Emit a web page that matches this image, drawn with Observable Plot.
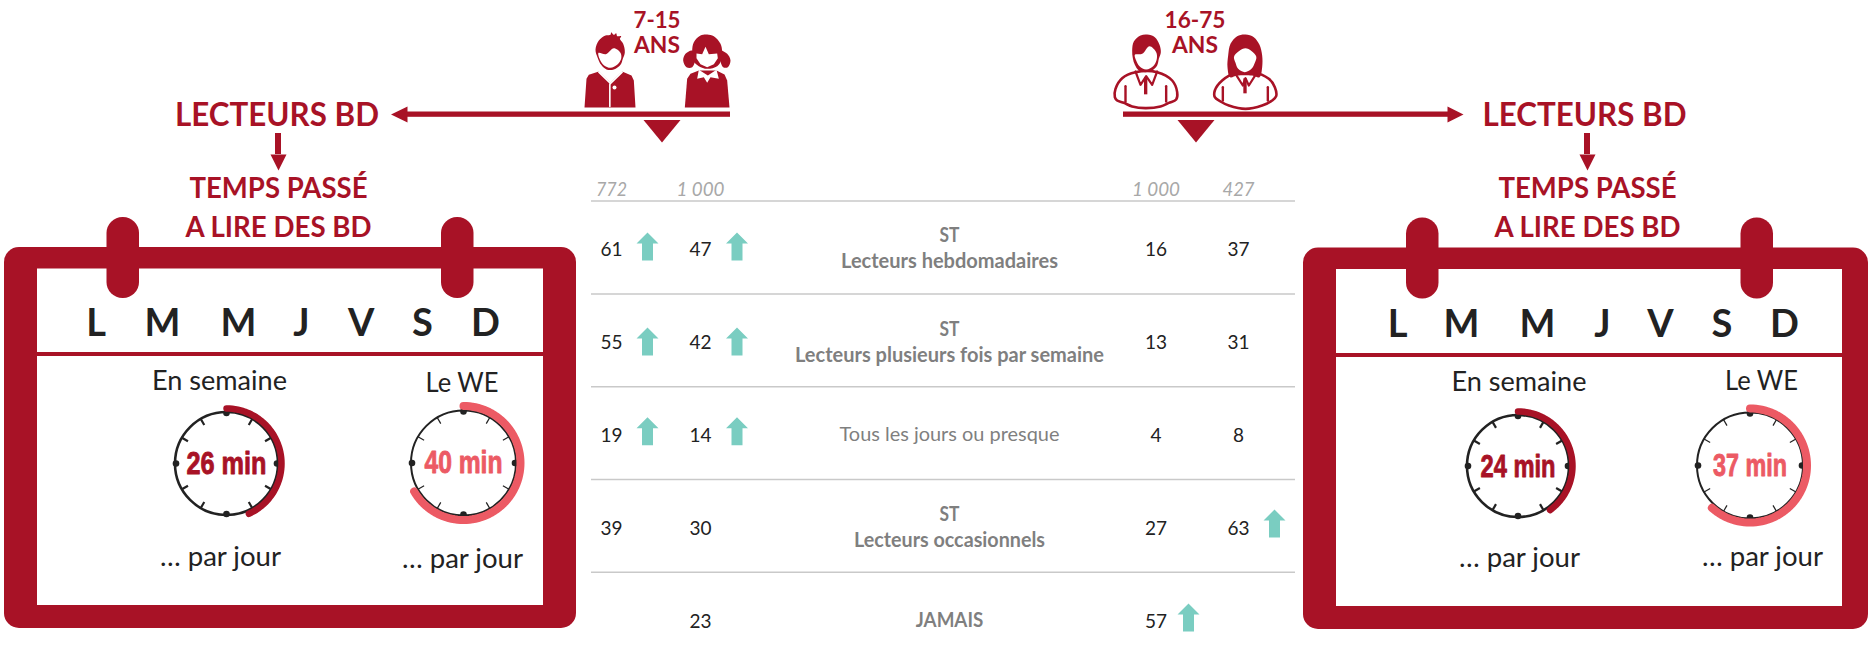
<!DOCTYPE html>
<html lang="fr">
<head>
<meta charset="utf-8">
<script src="https://cdn.jsdelivr.net/npm/d3@7"></script>
<script src="https://cdn.jsdelivr.net/npm/@observablehq/plot@0.6"></script>
<style>html,body{margin:0;padding:0;background:#fff;overflow:hidden}svg{display:block}</style>
</head>
<body>
<div id="chart"></div>
<script>
// ---------- data ----------
const rowNames = ["Lecteurs hebdomadaires", "Lecteurs plusieurs fois par semaine", "Tous les jours ou presque", "Lecteurs occasionnels", "JAMAIS"];
const rowHasST = [true, true, false, true, false];
const rowBold = [true, true, false, true, true];
const baseLabels = ["772", "1 000", "1 000", "427"];
const kids715Base772 = [61, 55, 19, 39, null];
const kids715Base1000 = [47, 42, 14, 30, 23];
const adults1675Base1000 = [16, 13, 4, 27, 57];
const adults1675Base427 = [37, 31, 8, 63, null];
const up715Base772 = [true, true, true, false, false];
const up715Base1000 = [true, true, true, false, false];
const up1675Base1000 = [false, false, false, false, true];
const up1675Base427 = [false, false, false, true, false];
const days = ["L", "M", "M", "J", "V", "S", "D"];
const minutes = {kidsWeek: 26, kidsWE: 40, adultsWeek: 24, adultsWE: 37};
const texts = {readers: "LECTEURS BD", time1: "TEMPS PASSÉ", time2: "A LIRE DES BD", week: "En semaine", we: "Le WE", perDay: "… par jour", ans: "ANS", kids: "7-15", adults: "16-75", st: "ST"};

// ---------- style & layout ----------
const RED = "#a81226", CORAL = "#ec5a64", TEAL = "#7acdc1", INK = "#222222", GREY = "#7f7f7f", RULE = "#c9c9c9", BASE = "#a8a8a8";
const SANS = "Lato, 'Open Sans', sans-serif";
const NARROW = "'Liberation Sans', sans-serif";
const columns = [611, 700, 1155.5, 1238];
const arrowDx = [36, 36.5, 32.5, 36];
const rowY = [248, 341.7, 434, 527, 620];
const arrowTop = [-16, -14.7, -17.3, -18, -17];
const ruleY = [200.5, 293.5, 386.3, 479, 571.7];
// rendered width of each label, measured on the reference (its typeface is narrower than Lato)
const fitWidth = {"LECTEURS BD": 204, "TEMPS PASSÉ": 178, "A LIRE DES BD": 186, "En semaine": 135, "Le WE": 73, "… par jour": 121,
  "26 min": 80, "40 min": 78, "24 min": 75, "37 min": 74, "Lecteurs hebdomadaires": 217, "Lecteurs plusieurs fois par semaine": 309,
  "Tous les jours ou presque": 220, "Lecteurs occasionnels": 191, "JAMAIS": 67.5, "ST": 20, "772": 31, "1 000": 48, "427": 32,
  "7-15": 47, "ANS": 46, "16-75": 61};

const marks = [];
const pt = ([x, y]) => ({x, y});
const poly = (pts, fill, curve = "linear-closed") =>
  marks.push(Plot.line(pts.map(pt), {x: "x", y: "y", fill, stroke: "none", curve}));
const outline = (pts, stroke, strokeWidth, curve = "linear", fill = "none") =>
  marks.push(Plot.line(pts.map(pt), {x: "x", y: "y", fill, stroke, strokeWidth, curve, strokeLinecap: "round", strokeLinejoin: "round"}));
const box = (x1, x2, y1, y2, fill, rx = 0) =>
  marks.push(Plot.rect([{x1, x2, y1, y2}], {x1: "x1", x2: "x2", y1: "y1", y2: "y2", fill, rx}));
const text = (items, o) =>
  marks.push(Plot.text(items, {x: "x", y: "y", text: "t", lineAnchor: "bottom", textAnchor: "middle", fontFamily: SANS, ...o}));

// ---------- calendars ----------
function calendar(c) {
  box(c.x1, c.x2, c.top, c.bottom, RED, 15);
  box(c.x1 + 33, c.x2 - c.rb, c.top + 21.5, c.bottom - 23, "#ffffff");
  box(c.x1 + 33, c.x2 - c.rb, c.div, c.div + 4, RED);
  c.rings.forEach(r => box(r, r + 32.5, c.top - 30, c.top + 51, RED, 16));
  text(days.map((t, i) => ({t, x: c.days[i], y: c.dayY})), {fontSize: 38, fontWeight: 700, fill: INK});
  text([{t: texts.time1, x: c.cx, y: 197}, {t: texts.time2, x: c.cx, y: 236.5}], {fontSize: 28, fontWeight: 700, fill: RED});
  text([{t: texts.readers, x: c.rx, y: 125.5}], {fontSize: 33, fontWeight: 700, fill: RED});
}
calendar({x1: 4, x2: 576, rb: 33, top: 247, bottom: 628, div: 352, dayY: 335.5, rings: [106.5, 441], cx: 278, rx: 276.5,
  days: [95.5, 162, 238, 301, 360.7, 422, 485]});
calendar({x1: 1303, x2: 1868, rb: 26, top: 247.5, bottom: 629, div: 353, dayY: 336, rings: [1406, 1740.5], cx: 1587, rx: 1584,
  days: [1397, 1461, 1537, 1602, 1660, 1721.5, 1784]});

// ---------- clocks ----------
function clock(c) {
  const polar = (m, r) => [c.x + r * Math.sin(m * Math.PI / 30), c.y - r * Math.cos(m * Math.PI / 30)];
  marks.push(Plot.dot([c], {x: "x", y: "y", r: c.r, stroke: INK, strokeWidth: c.ring, fill: "none"}));
  const hours = d3.range(0, 60, 5);
  const small = hours.filter(m => m % 15 !== 0);
  marks.push(Plot.link(small.map(m => { const [x1, y1] = polar(m, c.r + 0.5), [x2, y2] = polar(m, c.r - 7); return {x1, y1, x2, y2}; }),
    {x1: "x1", y1: "y1", x2: "x2", y2: "y2", stroke: INK, strokeWidth: c.tick}));
  marks.push(Plot.dot(hours.filter(m => m % 15 === 0).map(m => { const [x, y] = polar(m, c.r - 1); return {x, y}; }),
    {x: "x", y: "y", r: 3.3, fill: INK}));
  outline(d3.range(0, c.minutes + 0.25, 0.5).map(m => polar(m, c.arc)), c.color, c.arcWidth);
  text([{t: `${c.minutes} min`, x: c.x, y: c.labelY}], {fontFamily: NARROW, fontWeight: 700, fontSize: 32, fill: c.color, stroke: c.color, strokeWidth: 0.9});
  text([{t: c.head, x: c.headX, y: c.headY}, {t: texts.perDay, x: c.footX, y: c.footY}], {fontSize: 27, fill: INK});
}
clock({minutes: minutes.kidsWeek, x: 226, y: 463, r: 51.5, ring: 2.6, tick: 2.2, arc: 55, arcWidth: 6.5, color: RED, labelY: 473.5,
  head: texts.week, headX: 219, headY: 389, footX: 220, footY: 565});
clock({minutes: minutes.kidsWE, x: 463, y: 462.5, r: 52.5, ring: 2, tick: 1.2, arc: 57, arcWidth: 8, color: CORAL, labelY: 472,
  head: texts.we, headX: 461.5, headY: 391, footX: 462, footY: 567});
clock({minutes: minutes.adultsWeek, x: 1517.5, y: 465.5, r: 51, ring: 2.6, tick: 2.2, arc: 54.5, arcWidth: 6.5, color: RED, labelY: 476,
  head: texts.week, headX: 1518.5, headY: 390, footX: 1519, footY: 566});
clock({minutes: minutes.adultsWE, x: 1749.5, y: 465, r: 53, ring: 2, tick: 1.2, arc: 57, arcWidth: 8, color: CORAL, labelY: 475,
  head: texts.we, headX: 1761, headY: 389, footX: 1762, footY: 565});

// ---------- seesaw arrows ----------
box(405, 730, 111.5, 116.8, RED);
poly([[390.5, 114], [407, 106], [407, 122]], RED);
poly([[643, 119.5], [680, 119.5], [661.5, 142]], RED);
box(1123, 1448, 111.5, 116.8, RED);
poly([[1463, 114], [1447, 106], [1447, 122]], RED);
poly([[1177, 119.5], [1214, 119.5], [1195.5, 142]], RED);
[[278, 133, 154], [1587, 133, 154]].forEach(([x, y1, y2]) => {
  box(x - 3, x + 3, y1, y2, RED);
  poly([[x - 8, y2], [x + 8, y2], [x, 170]], RED);
});
text([{t: texts.kids, x: 656.5, y: 27}, {t: texts.ans, x: 656.5, y: 52}], {fontSize: 23, fontWeight: 700, fill: RED});
text([{t: texts.adults, x: 1194.5, y: 27}, {t: texts.ans, x: 1194.5, y: 52}], {fontSize: 23, fontWeight: 700, fill: RED});

// ---------- pictograms ----------
const at = (ox, oy, pts) => pts.map(([x, y]) => [ox + x / 3, oy + y / 3]);
const K = (p) => at(570, 25, p), A = (p) => at(1105, 25, p);
// boy
poly(K([[42,246],[48,160],[55,148],[85,138],[120,172],[155,138],[183,150],[190,165],[195,246]]), RED);
poly(K([[75,72],[85,45],[105,30],[120,28],[122,20],[130,28],[137,23],[140,32],[152,32],[148,40],[158,55],[163,80],[157,100],[150,118],[130,132],[108,132],[92,118],[82,98]]), RED, "catmull-rom-closed");
poly(K([[84,82],[106,86],[130,68],[150,82],[152,100],[140,118],[120,127],[100,119],[88,102]]), "#ffffff", "catmull-rom-closed");
outline(K([[85,140],[120,174],[155,140]]), "#ffffff", 1.6);
outline(K([[118,176],[118,243]]), "#ffffff", 1.6);
marks.push(Plot.dot([pt(K([[132,186]])[0])], {x: "x", y: "y", r: 2, fill: "#ffffff"}));
// girl
poly(K([[343,246],[350,160],[360,145],[385,135],[438,135],[462,147],[470,165],[477,246]]), RED);
poly(K([[385,133],[380,160],[400,155],[410,172],[420,155],[445,160],[438,133],[412,150]]), "#ffffff");
poly(K([[338,105],[345,85],[365,75],[375,95],[365,125],[348,125]]), RED, "catmull-rom-closed");
poly(K([[450,75],[470,85],[480,105],[472,125],[458,125],[448,95]]), RED, "catmull-rom-closed");
poly(K([[365,75],[370,50],[390,30],[410,27],[430,32],[450,55],[455,80],[452,105],[440,122],[410,130],[385,122],[368,105]]), RED, "catmull-rom-closed");
poly(K([[378,84],[395,86],[405,64],[415,86],[440,84],[442,98],[430,116],[410,125],[390,116],[378,98]]), "#ffffff");
// man
outline(A([[90,140],[50,158],[30,190],[28,215],[35,225],[55,232],[80,243],[120,248],[165,243],[190,232],[212,222],[215,200],[200,165],[155,140]]), RED, 2.6, "catmull-rom-closed", "#ffffff");
outline(A([[60,182],[60,228]]), RED, 2.4);
outline(A([[182,182],[182,228]]), RED, 2.4);
poly(A([[80,75],[85,48],[105,30],[125,27],[148,35],[162,58],[166,80],[160,100],[155,120],[140,135],[120,140],[100,135],[88,118],[82,98]]), RED, "catmull-rom-closed");
poly(A([[88,88],[110,85],[132,62],[152,80],[154,100],[145,120],[122,132],[102,122],[92,105]]), "#ffffff", "catmull-rom-closed");
outline(A([[90,138],[105,178],[122,152],[140,178],[155,138]]), RED, 2.2);
box(...[A([[117,0]])[0][0], A([[127,0]])[0][0], A([[0,156]])[0][1], A([[0,208]])[0][1]], RED);
// woman
outline(A([[395,140],[350,165],[328,195],[328,215],[345,228],[370,240],[420,250],[470,240],[500,225],[512,212],[508,185],[490,160],[445,140]]), RED, 2.6, "catmull-rom-closed", "#ffffff");
outline(A([[352,185],[352,225]]), RED, 2.4);
outline(A([[487,185],[487,225]]), RED, 2.4);
poly(A([[368,90],[375,55],[395,32],[420,27],[445,35],[462,58],[470,90],[470,125],[462,155],[440,150],[395,150],[374,155],[366,125]]), RED, "catmull-rom-closed");
poly(A([[386,92],[420,68],[452,92],[448,112],[438,130],[418,140],[398,130],[390,112]]), "#ffffff", "catmull-rom-closed");
outline(A([[390,145],[412,180],[420,158],[430,180],[452,145]]), RED, 2.2);
box(...[A([[415,0]])[0][0], A([[425,0]])[0][0], A([[0,160]])[0][1], A([[0,205]])[0][1]], RED);

// ---------- table ----------
ruleY.forEach(y => marks.push(Plot.ruleY([y], {y: d => d, x1: 591, x2: 1295, stroke: RULE, strokeWidth: 1.5})));
text(baseLabels.map((t, i) => ({t, x: columns[i], y: 195})), {fontSize: 19, fontStyle: "italic", fill: BASE});
const valueCols = [kids715Base772, kids715Base1000, adults1675Base1000, adults1675Base427];
const upCols = [up715Base772, up715Base1000, up1675Base1000, up1675Base427];
valueCols.forEach((values, c) => {
  text(values.map((v, r) => ({t: v, x: columns[c], y: rowY[r] + 7})).filter(d => d.t !== null), {fontSize: 19, fill: INK});
  upCols[c].forEach((up, r) => {
    if (!up) return;
    const x = columns[c] + arrowDx[c], t = rowY[r] + arrowTop[r];
    poly([[x, t], [x + 11, t + 11], [x + 5.5, t + 11], [x + 5.5, t + 28], [x - 5.5, t + 28], [x - 5.5, t + 11], [x - 11, t + 11]], TEAL);
  });
});
const tableX = 949;
const boldRows = [], plainRows = [];
rowNames.forEach((t, r) => {
  (rowBold[r] ? boldRows : plainRows).push({t, x: tableX, y: rowHasST[r] ? rowY[r] + 19.7 : rowY[r] + 6.7});
  if (rowHasST[r]) boldRows.push({t: texts.st, x: tableX, y: rowY[r] - 6.3});
});
text(boldRows, {fontSize: 20, fontWeight: 700, fill: GREY});
text(plainRows, {fontSize: 19, fill: GREY});

const chart = Plot.plot({
  width: 1868, height: 661, margin: 0,
  x: {domain: [0, 1868], range: [0, 1868], axis: null},
  y: {domain: [0, 661], range: [0, 661], axis: null},
  marks
});
chart.querySelectorAll("text").forEach(node => {
  const w = fitWidth[node.textContent];
  if (w) { node.setAttribute("textLength", w); node.setAttribute("lengthAdjust", "spacingAndGlyphs"); }
});
document.getElementById("chart").append(chart);
</script>
</body>
</html>
